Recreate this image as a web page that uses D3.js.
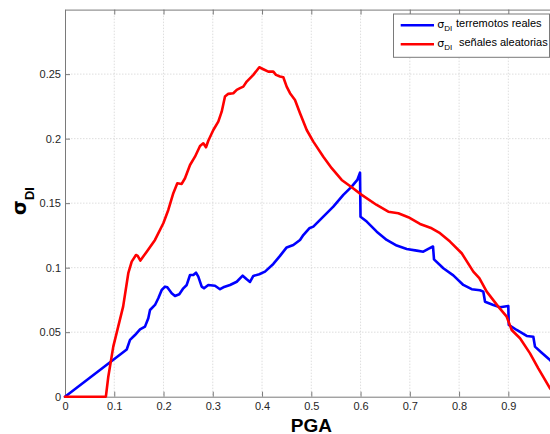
<!DOCTYPE html>
<html>
<head>
<meta charset="utf-8">
<script src="https://cdn.jsdelivr.net/npm/d3@7"></script>
<style>
  html, body { margin: 0; padding: 0; background: #fff; }
  svg { display: block; }
  text { font-family: "Liberation Sans", Arial, Helvetica, sans-serif; }
</style>
</head>
<body>
<svg id="chart" width="550" height="434"></svg>
<script>
// PGA values and dispersion of the damage index for each series
const realPGA = [0, 0.1253, 0.132, 0.1421, 0.1523, 0.1624, 0.1691, 0.1726, 0.1827, 0.1894, 0.1963, 0.203, 0.2077,
  0.2166, 0.2233, 0.232, 0.2402, 0.2471, 0.2538, 0.2605, 0.2659, 0.2706, 0.2775, 0.2822, 0.2909, 0.3045, 0.3147,
  0.3214, 0.335, 0.3486, 0.3607, 0.3689, 0.3756, 0.3823, 0.3944, 0.406, 0.4229, 0.4365, 0.45, 0.4635, 0.4771,
  0.4838, 0.4959, 0.5041, 0.5244, 0.5447, 0.565, 0.582, 0.5934, 0.5989, 0.5999, 0.6125, 0.6328, 0.6531, 0.6734,
  0.6937, 0.714, 0.7274, 0.7375, 0.7471, 0.7491, 0.768, 0.7883, 0.8086, 0.8256, 0.8425, 0.8492, 0.8527, 0.8695,
  0.8831, 0.8999, 0.9009, 0.917, 0.9373, 0.9507, 0.9541, 0.9677, 0.9846, 0.995];
const realSigma = [0, 0.0366, 0.044, 0.0478, 0.0522, 0.0543, 0.0608, 0.0672, 0.0711, 0.0763, 0.0827, 0.0853, 0.0848,
  0.0802, 0.0781, 0.0794, 0.084, 0.0866, 0.0943, 0.0943, 0.0961, 0.093, 0.0853, 0.084, 0.0866, 0.086, 0.0833,
  0.0848, 0.0866, 0.0891, 0.0938, 0.091, 0.0889, 0.0936, 0.0949, 0.0969, 0.1029, 0.1091, 0.1157, 0.1176, 0.1215,
  0.1253, 0.1305, 0.1318, 0.1395, 0.1473, 0.1564, 0.1628, 0.168, 0.1736, 0.1395, 0.1357, 0.1279, 0.1215, 0.1171,
  0.1145, 0.1132, 0.1124, 0.1145, 0.1164, 0.1064, 0.0995, 0.094, 0.0866, 0.0833, 0.0825, 0.0814, 0.0736, 0.0711,
  0.0693, 0.0703, 0.0556, 0.0517, 0.0471, 0.0465, 0.0388, 0.0341, 0.0284, 0.024];

const randomPGA = [0, 0.083, 0.0879, 0.098, 0.108, 0.118, 0.1285, 0.1354, 0.1441, 0.1476, 0.153, 0.1659, 0.1827,
  0.1996, 0.2097, 0.2199, 0.228, 0.2369, 0.2436, 0.2538, 0.2639, 0.2741, 0.2808, 0.2862, 0.2909, 0.3011, 0.3112,
  0.3181, 0.3248, 0.3315, 0.3417, 0.3486, 0.3553, 0.362, 0.3689, 0.3823, 0.3944, 0.4026, 0.4127, 0.4229, 0.4283,
  0.4365, 0.4432, 0.45, 0.4568, 0.4669, 0.4771, 0.4907, 0.5041, 0.5244, 0.5414, 0.5617, 0.582, 0.6023, 0.6328,
  0.6563, 0.6766, 0.6969, 0.7207, 0.7444, 0.7613, 0.7816, 0.8053, 0.8289, 0.8411, 0.8561, 0.8796, 0.8967, 0.9068,
  0.9237, 0.944, 0.9608, 0.9846, 0.995];
const randomSigma = [0, 0, 0.0155, 0.0388, 0.0543, 0.0698, 0.0957, 0.1047, 0.1098, 0.1091, 0.1055, 0.1124, 0.1215,
  0.1344, 0.1447, 0.1577, 0.1654, 0.1649, 0.1693, 0.1796, 0.186, 0.1943, 0.1964, 0.1933, 0.1984, 0.2067, 0.2132,
  0.2209, 0.2326, 0.2347, 0.2352, 0.2378, 0.2391, 0.2403, 0.2442, 0.2494, 0.2553, 0.2538, 0.2519, 0.2519, 0.2494,
  0.2481, 0.2476, 0.2403, 0.2352, 0.23, 0.2197, 0.2067, 0.1977, 0.186, 0.1771, 0.168, 0.1623, 0.1564, 0.1486,
  0.1434, 0.1422, 0.1391, 0.1339, 0.1305, 0.1267, 0.1202, 0.1112, 0.0969, 0.0918, 0.0814, 0.0698, 0.062, 0.0517,
  0.0453, 0.0336, 0.022, 0.0065, 0.002];

const xTicks = [0, 0.1, 0.2, 0.3, 0.4, 0.5, 0.6, 0.7, 0.8, 0.9];
const xTickLabels = ["0", "0.1", "0.2", "0.3", "0.4", "0.5", "0.6", "0.7", "0.8", "0.9"];
const yTicks = [0, 0.05, 0.1, 0.15, 0.2, 0.25];
const yTickLabels = ["0", "0.05", "0.1", "0.15", "0.2", "0.25"];

const seriesNames = ["terremotos reales", "señales aleatorias"];
const seriesColors = ["#0000ff", "#ff0000"];

const svg = d3.select("#chart");
svg.append("rect").attr("width", 550).attr("height", 434).attr("fill", "#fff");

const plotLeft = 65, plotRight = 557.6, plotTop = 9.6, plotBottom = 396.7;
const x = d3.scaleLinear().domain([0, 1]).range([plotLeft, plotRight]);
const y = d3.scaleLinear().domain([0, 0.3]).range([plotBottom, plotTop]);

const axisColor = "#7a7a7a";
const labelColor = "#262626";

// dotted grid
const grid = svg.append("g");
grid.selectAll("line.gx").data(xTicks.slice(1)).join("line")
  .attr("x1", d => x(d)).attr("x2", d => x(d))
  .attr("y1", plotTop).attr("y2", plotBottom)
  .attr("stroke", "#d6d6d6").attr("stroke-width", 0.8).attr("stroke-dasharray", "1.5,1.5");
grid.selectAll("line.gy").data(yTicks.slice(1)).join("line")
  .attr("x1", plotLeft).attr("x2", plotRight)
  .attr("y1", d => y(d)).attr("y2", d => y(d))
  .attr("stroke", "#d6d6d6").attr("stroke-width", 0.8).attr("stroke-dasharray", "1.5,1.5");

// axes with inward ticks
function styleAxis(g) {
  g.selectAll("path.domain").attr("stroke", axisColor).attr("stroke-width", 1);
  g.selectAll(".tick line").attr("stroke", axisColor).attr("stroke-width", 1);
  g.selectAll(".tick text").attr("fill", labelColor).style("font-size", "11px")
    .style("font-family", "'Liberation Sans', Arial, sans-serif");
}

const xAxis = d3.axisBottom(x).tickValues(xTicks)
  .tickFormat((d, i) => xTickLabels[i]).tickSizeInner(-5).tickSizeOuter(0).tickPadding(6);
svg.append("g").attr("transform", `translate(0,${plotBottom})`).call(xAxis).call(styleAxis);

const xAxisTop = d3.axisTop(x).tickValues(xTicks.concat([1]))
  .tickFormat("").tickSizeInner(-5).tickSizeOuter(0);
svg.append("g").attr("transform", `translate(0,${plotTop})`).call(xAxisTop).call(styleAxis);

const yAxis = d3.axisLeft(y).tickValues(yTicks)
  .tickFormat((d, i) => yTickLabels[i]).tickSizeInner(-5).tickSizeOuter(0).tickPadding(4);
svg.append("g").attr("transform", `translate(${plotLeft},0)`).call(yAxis).call(styleAxis);

// series lines
const line = d3.line().x(d => x(d[0])).y(d => y(d[1]));
const realData = realPGA.map((v, i) => [v, realSigma[i]]);
const randomData = randomPGA.map((v, i) => [v, randomSigma[i]]);

svg.append("path").datum(realData).attr("d", line)
  .attr("fill", "none").attr("stroke", seriesColors[0]).attr("stroke-width", 2.6)
  .attr("stroke-linejoin", "round").attr("stroke-linecap", "round");
svg.append("path").datum(randomData).attr("d", line)
  .attr("fill", "none").attr("stroke", seriesColors[1]).attr("stroke-width", 2.6)
  .attr("stroke-linejoin", "round").attr("stroke-linecap", "round");

// axis titles
svg.append("text").attr("x", (plotLeft + plotRight) / 2).attr("y", 431.5)
  .attr("text-anchor", "middle").attr("fill", "#000")
  .style("font-size", "19px").style("font-weight", "bold").text("PGA");

const yTitle = svg.append("text").attr("transform", "translate(25.5,201) rotate(-90)")
  .attr("text-anchor", "middle").attr("fill", "#000").style("font-weight", "bold");
yTitle.append("tspan").style("font-size", "19px")
  .style("font-family", "'DejaVu Sans', sans-serif").text("σ");
yTitle.append("tspan").style("font-size", "13px").attr("dy", 8).text("DI");

// legend
const legend = svg.append("g");
legend.append("rect").attr("x", 393.5).attr("y", 14).attr("width", 156).attr("height", 43.3)
  .attr("fill", "#fff").attr("stroke", axisColor).attr("stroke-width", 1);
const rows = [25.3, 44.3];
seriesNames.forEach((name, i) => {
  legend.append("line").attr("x1", 400.7).attr("x2", 434).attr("y1", rows[i]).attr("y2", rows[i])
    .attr("stroke", seriesColors[i]).attr("stroke-width", 2.6);
  const t = legend.append("text").attr("x", 437.3).attr("y", rows[i] + 3).attr("fill", "#000")
    .style("font-size", "11px");
  t.append("tspan").style("font-family", "'DejaVu Sans', sans-serif").text("σ");
  t.append("tspan").style("font-size", "8px").attr("dy", 3).text("DI");
  t.append("tspan").attr("x", i === 0 ? 456 : 459).attr("y", rows[i] + 2).text(name);
});
</script>
</body>
</html>
